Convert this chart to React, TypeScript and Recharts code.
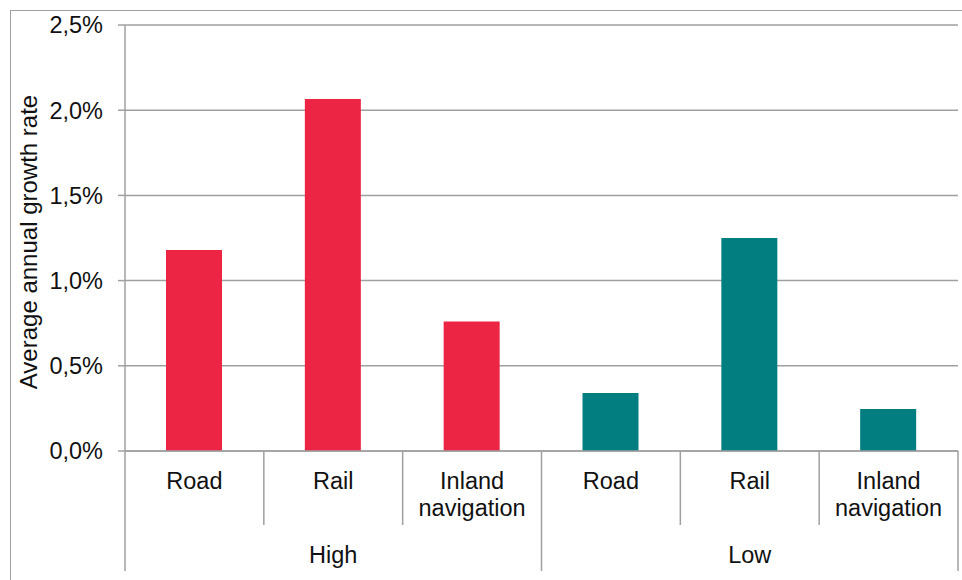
import { Bar, BarChart, CartesianGrid, Cell, XAxis, YAxis } from "recharts";

const categories = ["Road", "Rail", "Inland navigation", "Road", "Rail", "Inland navigation"];
const scenarios = ["High", "High", "High", "Low", "Low", "Low"];
const growth = [0.0118, 0.02065, 0.0076, 0.0034, 0.0125, 0.00247];
const yTicks = [0, 0.005, 0.01, 0.015, 0.02, 0.025];

const RED = "#EB2543";
const TEAL = "#027E80";
const LINE = "#A0A0A0";

const W = 962;
const H = 580;
const X_H = 129;
const M = { top: 25, right: 4, left: 0, bottom: 0 };
const Y_W = 125;
const AXIS_Y = H - X_H;
const BAND = (W - M.left - M.right - Y_W) / categories.length;
const FONT = "'Liberation Sans', Arial, sans-serif";
const FS = 23.5;

const data = categories.map((name, i) => ({
  id: `c${i}`,
  name,
  scenario: scenarios[i],
  value: growth[i],
}));

function pct(v: number) {
  return `${(v * 100).toFixed(1).replace(".", ",")}%`;
}

function CategoryTick(props: any) {
  const { x, payload } = props;
  const i = payload.index;
  const row = data[i];
  const lines = row.name.split(" ");
  const left = x - BAND / 2;
  const startsGroup = i === 0 || scenarios[i - 1] !== row.scenario;
  const isLast = i === data.length - 1;
  const groupSize = scenarios.filter((s) => s === row.scenario).length;
  return (
    <g>
      <line x1={left} x2={left} y1={AXIS_Y} y2={startsGroup ? H - 9 : AXIS_Y + 74} stroke={LINE} strokeWidth={1.5} />
      {isLast && <line x1={left + BAND} x2={left + BAND} y1={AXIS_Y} y2={H - 9} stroke={LINE} strokeWidth={1.5} />}
      <text x={x} y={AXIS_Y + 38} textAnchor="middle" fill="#111" fontSize={FS} fontFamily={FONT}>
        {lines.map((l: string, k: number) => (
          <tspan key={k} x={x} dy={k === 0 ? 0 : 27}>
            {l}
          </tspan>
        ))}
      </text>
      {startsGroup && (
        <text
          x={left + (BAND * groupSize) / 2}
          y={AXIS_Y + 112}
          textAnchor="middle"
          fill="#111"
          fontSize={FS}
          fontFamily={FONT}
        >
          {row.scenario}
        </text>
      )}
    </g>
  );
}

export default function App() {
  return (
    <div style={{ position: "absolute", left: 0, top: 0, width: W, height: H, overflow: "hidden", background: "#fff" }}>
      <div
        style={{
          position: "absolute",
          left: 10,
          top: 10,
          width: W + 20,
          height: H + 20,
          border: `1.5px solid ${LINE}`,
        }}
      />
      <BarChart width={W} height={H} data={data} margin={M} style={{ position: "absolute", left: 0, top: 0 }}>
        <CartesianGrid vertical={false} stroke={LINE} strokeWidth={1.5} />
        <XAxis
          dataKey="id"
          axisLine={{ stroke: LINE, strokeWidth: 1.5 }}
          tickLine={false}
          tick={<CategoryTick />}
          interval={0}
          height={X_H}
        />
        <YAxis
          width={Y_W}
          domain={[0, 0.025]}
          ticks={yTicks}
          tickFormatter={pct}
          axisLine={{ stroke: LINE, strokeWidth: 1.5 }}
          tickLine={{ stroke: LINE, strokeWidth: 1.5 }}
          tickSize={7}
          tickMargin={15}
          tick={{ fill: "#111", fontSize: FS, fontFamily: FONT }}
          label={{
            value: "Average annual growth rate",
            angle: -90,
            position: "insideLeft",
            offset: 28,
            dy: 4,
            style: { textAnchor: "middle", fill: "#111", fontSize: 24, fontFamily: FONT },
          }}
        />
        <Bar dataKey="value" barSize={56} isAnimationActive={false}>
          {data.map((d, i) => (
            <Cell key={i} fill={d.scenario === "High" ? RED : TEAL} />
          ))}
        </Bar>
      </BarChart>
    </div>
  );
}
